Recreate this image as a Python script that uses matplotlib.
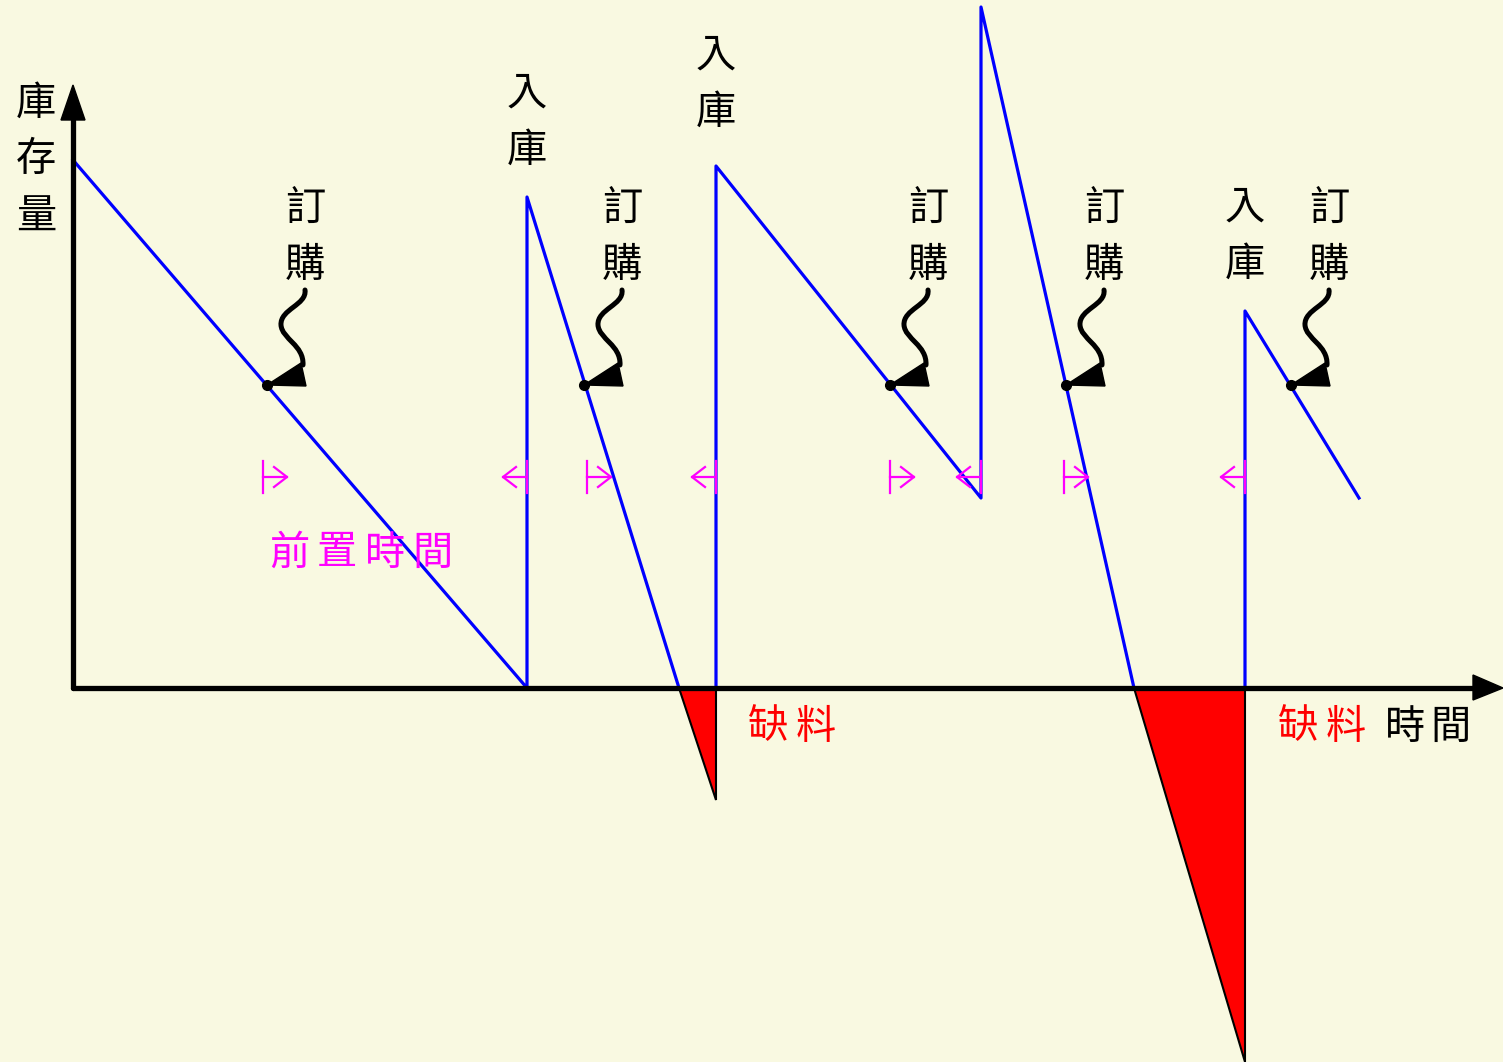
import numpy as np
import matplotlib
matplotlib.use('Agg')
import matplotlib.pyplot as plt
from matplotlib.path import Path
from matplotlib.patches import PathPatch, Polygon

plt.rcParams['font.family'] = ['Noto Sans CJK TC', 'DejaVu Sans']

BG = '#F9F9E1'
BLUE = '#0000FF'
MAGENTA = '#FF00FF'

# inventory level over time, split where stock runs out
stock_t = [[0, 454, 454, 606], [643, 643, 908, 908, 1061], [1172, 1172, 1286]]
stock_q = [[528, 0, 491, 0], [0, 522, 190, 681, 0], [0, 377, 190]]

# shortage areas (below zero)
short_t = [[606, 643, 643], [1061, 1172, 1172]]
short_q = [[0, 0, -112], [0, 0, -374]]

# reorder points and receipts
order_t = [194, 511, 817, 993, 1218]
order_q = [303, 303, 303, 303, 303]
lead_start = [190, 514, 817, 991]
receipt_t = [454, 643, 908, 1172]
receipt_label_t = [454, 643, 1172]
receipt_label_q = [595, 633, 481]

lead_q = 211
t_max, q_max = 1430, 603

fig = plt.figure(figsize=(15.03, 10.62), dpi=100, facecolor=BG)
ax = fig.add_axes([0, 0, 1, 1])
ax.set_facecolor(BG)
ax.set_xlim(-73, 1430)
ax.set_ylim(-374, 688)
ax.axis('off')

# shortage triangles
for t, q in zip(short_t, short_q):
    ax.add_patch(Polygon(list(zip(t, q)), closed=True, facecolor='red',
                         edgecolor='black', lw=1.5, zorder=2))

# inventory line
for t, q in zip(stock_t, stock_q):
    ax.plot(t, q, color=BLUE, lw=2.3, zorder=3)

# axes with arrow heads
ax.plot([0, 0], [0, q_max - 35], color='black', lw=3.8, zorder=5, solid_capstyle='round')
ax.plot([0, t_max - 28], [0, 0], color='black', lw=3.8, zorder=5, solid_capstyle='round')
ax.add_patch(Polygon([(0, q_max), (-12, q_max - 35), (12, q_max - 35)], color='black', zorder=5))
ax.add_patch(Polygon([(t_max, 0), (t_max - 30, 13), (t_max - 30, -12)], color='black', zorder=5))

fs = 29


def vtext(x, y, s, color='black', step=57):
    for i, ch in enumerate(s):
        ax.text(x, y - i * step, ch, fontsize=fs, color=color,
                ha='center', va='center', zorder=6)


def htext(x, y, s, color='black', step=47):
    x0 = x - step * (len(s) - 1) / 2
    for i, ch in enumerate(s):
        ax.text(x0 + i * step, y, ch, fontsize=fs, color=color,
                ha='center', va='center', zorder=6)


vtext(-37, 585, '庫存量')

# order points with wavy arrows
for t, q in zip(order_t, order_q):
    ax.plot(t, q, 'o', color='black', ms=7, zorder=6)
    verts = [(38, -95), (40, -80), (13, -76), (14, -60),
             (15, -46), (37, -40), (36, -20)]
    verts = [(t + dx, q - dy) for dx, dy in verts]
    codes = [Path.MOVETO] + [Path.CURVE4] * 6
    ax.add_patch(PathPatch(Path(verts, codes), facecolor='none', edgecolor='black',
                           lw=3.6, capstyle='round', zorder=6))
    head = [(t, q), (t + 34, q + 22), (t + 39, q - 1)]
    ax.add_patch(Polygon(head, closed=True, color='black', zorder=6))
    vtext(t + 38, q + 177, '訂購')

for t, q in zip(receipt_label_t, receipt_label_q):
    vtext(t, q, '入庫')

# lead time markers
for t0, t1 in zip(lead_start, receipt_t):
    ax.plot([t0, t0], [lead_q - 16, lead_q + 16], color=MAGENTA, lw=1.6, zorder=7)
    ax.plot([t0, t0 + 24], [lead_q, lead_q], color=MAGENTA, lw=1.6, zorder=7)
    ax.plot([t0 + 11, t0 + 24, t0 + 11], [lead_q + 10, lead_q, lead_q - 10],
            color=MAGENTA, lw=1.6, zorder=7)
    ax.plot([t1, t1], [lead_q - 16, lead_q + 16], color=MAGENTA, lw=1.6, zorder=7)
    ax.plot([t1 - 24, t1], [lead_q, lead_q], color=MAGENTA, lw=1.6, zorder=7)
    ax.plot([t1 - 11, t1 - 24, t1 - 11], [lead_q + 10, lead_q, lead_q - 10],
            color=MAGENTA, lw=1.6, zorder=7)

htext(288, 135, '前置時間', color=MAGENTA, step=48)
htext(719, -39, '缺料', color='red')
htext(1249, -39, '缺料', color='red')
htext(1355, -39, '時間', color='black', step=45)

fig.savefig('out.png', dpi=100, facecolor=BG)
